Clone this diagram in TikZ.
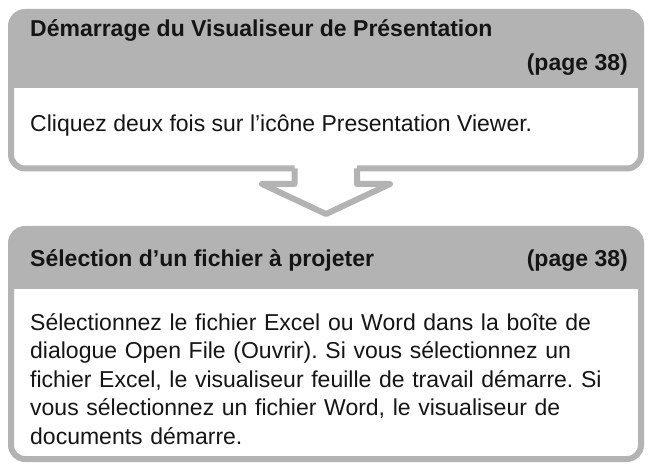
\documentclass[tikz,border=0pt]{standalone}
\usepackage{fontspec}
\setmainfont{Liberation Sans}
\definecolor{boxgray}{HTML}{B3B3B3}
\definecolor{ink}{HTML}{151515}
\begin{document}
\frenchspacing
\begin{tikzpicture}[x=1bp,y=-1bp,line join=round,
  frame/.style={draw=boxgray,line width=6bp},
  headtxt/.style={font=\bfseries\fontsize{23bp}{28.5bp}\selectfont,text=ink,inner sep=0pt},
  bodytxt/.style={font=\fontsize{23bp}{28.5bp}\selectfont,text=ink,inner sep=0pt}]
\useasboundingbox[fill=white] (0,0) rectangle (651,468);
% box 1 header
\begin{scope}
\clip[rounded corners=14bp] (11,12) rectangle (641,168.5);
\fill[boxgray] (0,0) rectangle (651,88);
\end{scope}
% box 1 outline with arrow notch
\draw[frame,rounded corners=14bp] (294.5,168.5) -- (11,168.5) -- (11,12) -- (641,12) -- (641,168.5) -- (357,168.5);
\draw[frame,line cap=square] (357,168.5) -- (357,184) -- (390,184) -- (326,214) -- (262,184) -- (294.5,184) -- (294.5,168.5);
% box 2
\begin{scope}
\clip[rounded corners=14bp] (11,229) rectangle (641,459);
\fill[boxgray] (0,200) rectangle (651,289);
\end{scope}
\draw[frame,rounded corners=14bp] (11,229) rectangle (641,459);
% texts
\node[headtxt,anchor=base west] (t1) at (30,37) {Démarrage du Visualiseur de Présentation};
\node[headtxt,anchor=base east] (p1) at (628,71) {(page 38)};
\node[bodytxt,anchor=base west] (b1) at (30,132) {Cliquez deux fois sur l'icône Presentation Viewer.};
\node[headtxt,anchor=base west] (t2) at (30,267) {Sélection d’un fichier à projeter};
\node[headtxt,anchor=base east] (p2) at (628,267) {(page 38)};
\node[bodytxt,anchor=base west,text width=620bp,align=left] (b2) at (30,330)
 {Sélectionnez le fichier Excel ou Word dans la boîte de\\
  dialogue Open File (Ouvrir). Si vous sélectionnez un\\
  fichier Excel, le visualiseur feuille de travail démarre. Si\\
  vous sélectionnez un fichier Word, le visualiseur de\\
  documents démarre.};
\end{tikzpicture}
\end{document}
